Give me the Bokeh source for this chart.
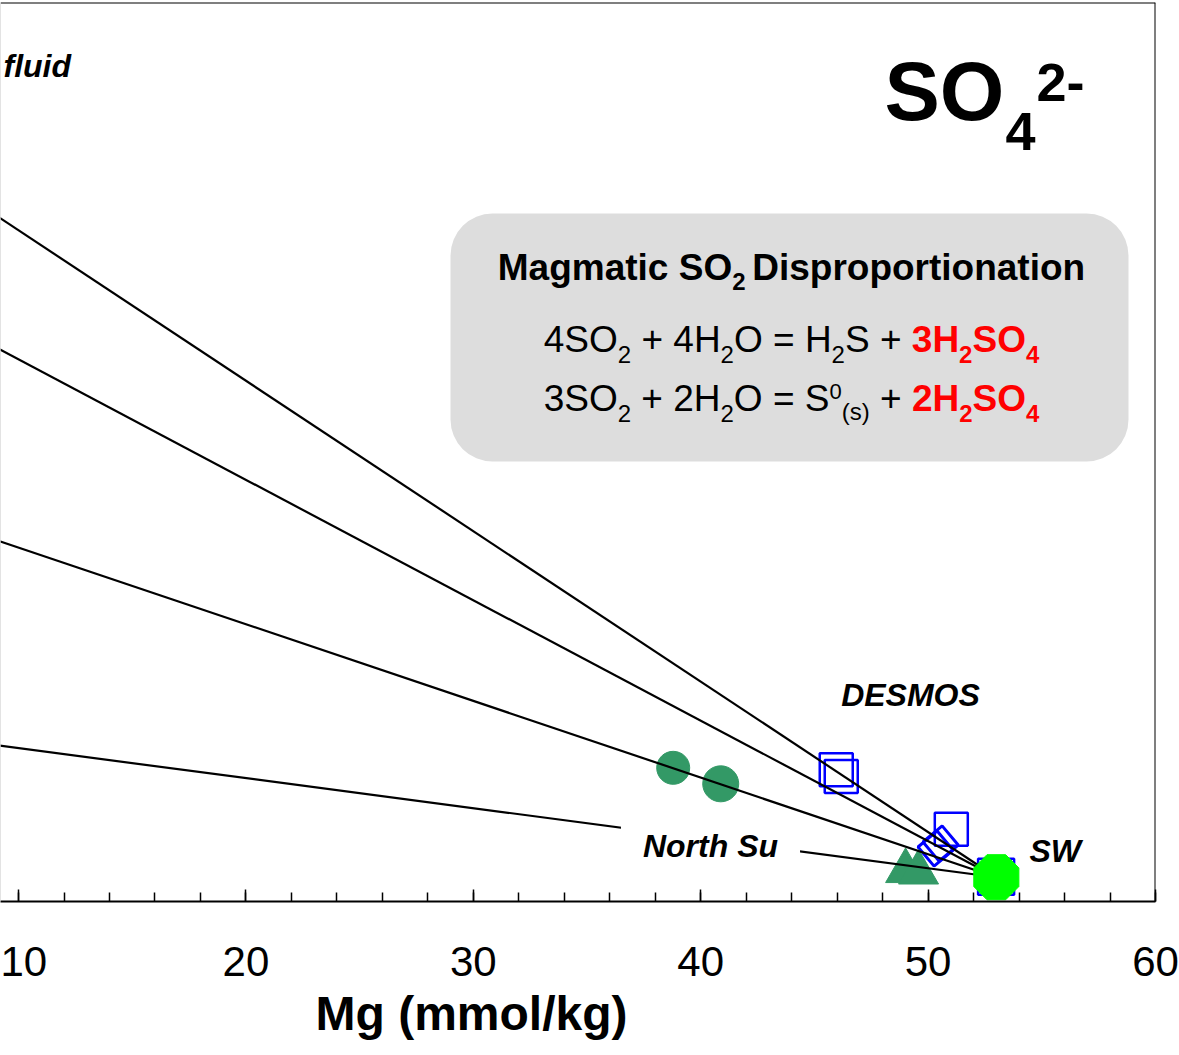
import math
from bokeh.plotting import figure
from bokeh.models import Range1d, FixedTicker, Label, Span, BoxAnnotation, Title
from bokeh.embed import file_html
from bokeh.resources import INLINE
from bokeh.core.properties import value

# ---------------- data (Mg in mmol/kg, SO4 in mmol/kg) ----------------
sw_mg = [53.0]
sw_so4 = [27.0]
endmember_mg = [0.0, 0.0, 0.0, 0.0]
endmember_so4 = [914.0, 737.0, 479.0, 204.0]

north_su_circle_mg = [38.79, 40.88]
north_su_circle_so4 = [148.7, 130.9]
north_su_circle_size = [33, 36]

north_su_tri_mg = [49.01, 49.58]
north_su_tri_so4 = [33.9, 32.3]

desmos_sq_mg = [45.96, 46.18, 51.02, 52.99]
desmos_sq_so4 = [146.6, 139.0, 80.3, 27.5]
desmos_sq_size = [33, 33, 33, 36]

desmos_dm_mg = [50.33, 50.55]
desmos_dm_so4 = [58.9, 64.5]

x_ticks = [10, 20, 30, 40, 50, 60]
x_minor = [10, 12, 14, 16, 18, 20, 22, 24, 26, 28, 30, 32, 34, 36, 38, 40,
           42, 44, 46, 48, 50, 52, 54, 56, 58, 60]

# ---------------- layout ----------------
W, H = 1179, 1052
FTOP, FBOT = 2, 901
FW, FH = 1155, FBOT - FTOP
X0, X1 = 9.207, 60.0
Y0, Y1 = 0.0, 1000.0
FONT = "Liberation Sans"
GREEN = "#339966"


def dx(page_x):
    return X0 + page_x / FW * (X1 - X0)


def dy(page_y):
    return Y0 + (FBOT - page_y) / FH * (Y1 - Y0)


p = figure(width=W, height=H, x_range=Range1d(X0, X1), y_range=Range1d(Y0, Y1),
           output_backend="svg", toolbar_location=None, y_axis_location=None,
           min_border_left=0, min_border_right=W - FW, min_border_top=FTOP,
           min_border_bottom=H - FBOT)
p.xgrid.grid_line_color = None
p.ygrid.grid_line_color = None
p.outline_line_color = None
p.background_fill_color = "white"
p.border_fill_color = "white"

ax = p.xaxis[0]
ax.ticker = FixedTicker(ticks=x_ticks, minor_ticks=x_minor)
ax.axis_line_width = 2.2
ax.axis_line_color = "black"
ax.major_tick_in = 12
ax.major_tick_out = 0
ax.minor_tick_in = 9
ax.minor_tick_out = 0
ax.major_tick_line_width = 1.5
ax.minor_tick_line_width = 1.5
ax.major_label_text_font = FONT
ax.major_label_text_font_size = "42px"
ax.major_label_text_color = "black"
ax.major_label_standoff = 45

p.add_layout(Title(text="Mg (mmol/kg)", align="left", offset=315, standoff=12,
                   text_font=FONT, text_font_size="48px", text_font_style="bold",
                   text_color="black"), "below")

p.add_layout(Span(location=Y1, dimension="width", line_color="black", line_width=2))
p.add_layout(Span(location=X1, dimension="height", line_color="black", line_width=2))
p.add_layout(Span(location=X0, dimension="height", line_color="#c8c8c8", line_width=1))

# rounded grey box
p.add_layout(BoxAnnotation(left=dx(450), right=dx(1128), top=dy(213), bottom=dy(461),
                           fill_color="#dddddd", fill_alpha=1.0, line_color=None,
                           border_radius=42, level="underlay"))

# ---------------- markers & mixing lines ----------------
p.scatter(desmos_sq_mg, desmos_sq_so4, marker="square", size=desmos_sq_size,
          fill_color=None, line_color="#0000ff", line_width=2.5)
p.scatter(desmos_dm_mg, desmos_dm_so4, marker="square", size=25, angle=math.radians(40),
          fill_color=None, line_color="#0000ff", line_width=3)
p.scatter(north_su_circle_mg, north_su_circle_so4, marker="circle", size=north_su_circle_size,
          fill_color=GREEN, line_color=GREEN)
p.scatter(north_su_tri_mg, north_su_tri_so4, marker="triangle", size=40,
          fill_color=GREEN, line_color=GREEN)

p.segment(x0=endmember_mg, y0=endmember_so4, x1=sw_mg * 4, y1=sw_so4 * 4,
          line_color="black", line_width=2.2)

# seawater octagon
sx = FW / (X1 - X0)
sy = FH / (Y1 - Y0)
r_px = 24.4
angs = [math.pi / 8 + k * math.pi / 4 for k in range(8)]
p.patch([sw_mg[0] + r_px * math.cos(a) / sx for a in angs],
        [sw_so4[0] + r_px * math.sin(a) / sy for a in angs],
        fill_color="#00ff00", line_color="#00ff00", line_width=1)

# ---------------- texts ----------------
REG = {' ': 278, '+': 584, '=': 584, 'S': 667, 'O': 778, 'H': 722, '(': 333, ')': 333, 's': 500}
BOLD = {' ': 278, '+': 584, 'S': 667, 'O': 778, 'H': 722, 'M': 833, 'a': 556, 'g': 611,
        'm': 889, 't': 333, 'i': 278, 'c': 556, 'D': 722, 's': 556, 'p': 611, 'r': 389,
        'o': 611, 'n': 611, '-': 333}
BASE_FIX = 0.39  # rendered glyphs sit this many em lower than the requested baseline


def tw(s, size, bold):
    tbl = BOLD if bold else REG
    return sum(tbl.get(c, 556) for c in s) / 1000.0 * size


def txt(page_x, page_y, s, size, style="normal", color="black", align="left"):
    p.text(x=[dx(page_x)], y=[dy(page_y - BASE_FIX * size)], text=[s], text_font=value(FONT),
           text_font_size=f"{size}px", text_font_style=style, text_color=color,
           text_align=align, text_baseline="alphabetic")


def runs(items, center_x, baseline):
    total = sum(tw(t, sz, b) for t, sz, b, c, o in items)
    x = center_x - total / 2.0
    for t, sz, b, c, o in items:
        lead = len(t) - len(t.lstrip(' '))
        core = t.strip(' ')
        if core:
            txt(x + tw(' ' * lead, sz, b), baseline + o, core, sz, "bold" if b else "normal", c)
        x += tw(t, sz, b)


RED = "#ff0000"
K = "black"
F, S = 37, 24
runs([("Magmatic SO", 37, True, K, 0), ("2", S, True, K, 9), (" ", S, True, K, 0),
      ("Disproportionation", 37, True, K, 0)], 791, 281)
runs([("4SO", F, False, K, 0), ("2", S, False, K, 10), (" + 4H", F, False, K, 0),
      ("2", S, False, K, 10), ("O = H", F, False, K, 0), ("2", S, False, K, 10),
      ("S + ", F, False, K, 0), ("3H", F, True, RED, 0), ("2", S, True, RED, 10),
      ("SO", F, True, RED, 0), ("4", S, True, RED, 10)], 791, 353)
runs([("3SO", F, False, K, 0), ("2", S, False, K, 10), (" + 2H", F, False, K, 0),
      ("2", S, False, K, 10), ("O = S", F, False, K, 0), ("0", 22, False, K, -12),
      ("(s)", S, False, K, 8), (" + ", F, False, K, 0), ("2H", F, True, RED, 0),
      ("2", S, True, RED, 10), ("SO", F, True, RED, 0), ("4", S, True, RED, 10)], 791, 412)

# big SO4 2-
txt(884, 123, "SO", 83, "bold")
txt(1005, 152, "4", 54, "bold")
txt(1036, 103, "2-", 54, "bold")

txt(910, 707, "DESMOS", 32, "bold italic", align="center")
txt(1029, 863, "SW", 32, "bold italic")
txt(3, 78, "fluid", 32, "bold italic")

p.add_layout(Label(x=dx(710), y=dy(858 - BASE_FIX * 32), text="North Su", text_align="center",
                   text_baseline="alphabetic", text_font=FONT, text_font_size="32px",
                   text_font_style="bold italic", text_color="black",
                   background_fill_color="white", padding=(22, 2)))

open("out.html", "w").write(file_html(p, INLINE))
